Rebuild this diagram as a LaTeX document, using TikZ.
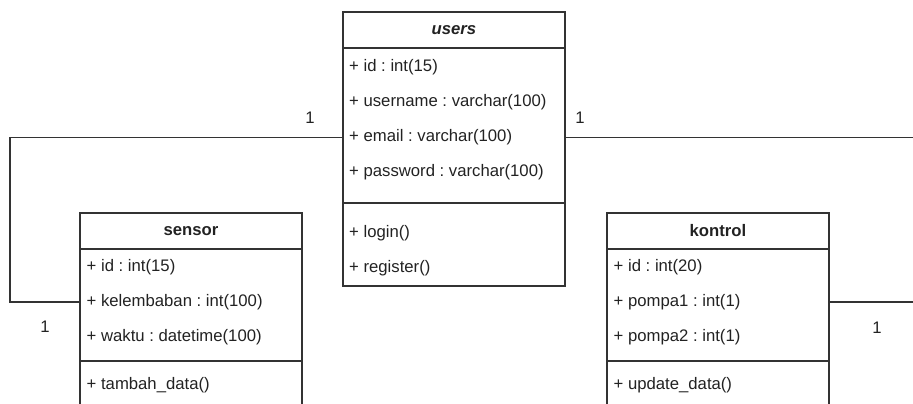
\documentclass[tikz,border=0pt]{standalone}
\usepackage{fontspec}
\setmainfont{Liberation Sans}
\usetikzlibrary{positioning}
\frenchspacing

\newcommand{\umlfont}{\fontsize{16.7}{19}\selectfont}
\definecolor{linegray}{HTML}{333333}
\definecolor{textgray}{HTML}{222222}

\tikzset{
  umlbox/.style={draw=linegray, line width=1.3pt, minimum width=222pt, inner sep=0pt},
  umltitle/.style={umlbox, minimum height=36pt, text=textgray, font=\umlfont\bfseries},
  umlrow/.style={anchor=west, inner sep=0pt, text=textgray, font=\umlfont},
  mult/.style={inner sep=0pt, text=textgray, font=\umlfont},
  assoc/.style={draw=linegray, line width=1.3pt}
}

\begin{document}
\begin{tikzpicture}[x=1pt, y=-1pt]
      \path[use as bounding box, clip] (0, 0) rectangle (913, 404);

      % users
      \node[umltitle, font=\umlfont\bfseries\itshape] (users) at (454, 30) {users};
      \node[umlbox, minimum height=155pt] (uattr) at (454, 125.5) {};
      \node[umlbox, minimum height=83pt] (umeth) at (454, 244.5) {};
      \node[umlrow] (uid) at (349, 67) {+ id : int(15)};
      \node[umlrow] (uname) at (349, 102) {+ username : varchar(100)};
      \node[umlrow] (uemail) at (349, 137.5) {+ email : varchar(100)};
      \node[umlrow] (upass) at (349, 172.5) {+ password : varchar(100)};
      \node[umlrow] (ulogin) at (349, 233) {+ login()};
      \node[umlrow] (ureg) at (349, 268) {+ register()};

      % sensor
      \node[umltitle] (sensor) at (191, 231) {sensor};
      \node[umlbox, minimum height=112pt] (sattr) at (191, 305) {};
      \node[umlbox, minimum height=70pt] (smeth) at (191, 396) {};
      \node[umlrow] (sid) at (86.5, 267) {+ id : int(15)};
      \node[umlrow] (slembab) at (86.5, 302) {+ kelembaban : int(100)};
      \node[umlrow] (swaktu) at (86.5, 337) {+ waktu : datetime(100)};
      \node[umlrow] (stambah) at (86.5, 385) {+ tambah\_data()};

      % kontrol
      \node[umltitle] (kontrol) at (718, 231) {kontrol};
      \node[umlbox, minimum height=112pt] (kattr) at (718, 305) {};
      \node[umlbox, minimum height=70pt] (kmeth) at (718, 396) {};
      \node[umlrow] (kid) at (613.5, 267) {+ id : int(20)};
      \node[umlrow] (kpompa1) at (613.5, 302) {+ pompa1 : int(1)};
      \node[umlrow] (kpompa2) at (613.5, 337) {+ pompa2 : int(1)};
      \node[umlrow] (kupdate) at (613.5, 385) {+ update\_data()};

      % connectors
      \coordinate (lbend) at (10, 220);
      \coordinate (redge) at (913, 0);
      \draw[assoc] (uattr.west |- uemail.center) -| (lbend) |- (sattr.west |- slembab.center);
      \draw[assoc] (uattr.east |- uemail.center) -- (redge |- uemail.center);
      \draw[assoc] (kattr.east |- kpompa1.center) -- (redge |- kpompa1.center);

      \node[mult] (m1) at (310, 118) {1};
      \node[mult] (m2) at (580, 118) {1};
      \node[mult] (m3) at (45, 327) {1};
      \node[mult] (m4) at (877, 328) {1};
    \end{tikzpicture}
\end{document}
